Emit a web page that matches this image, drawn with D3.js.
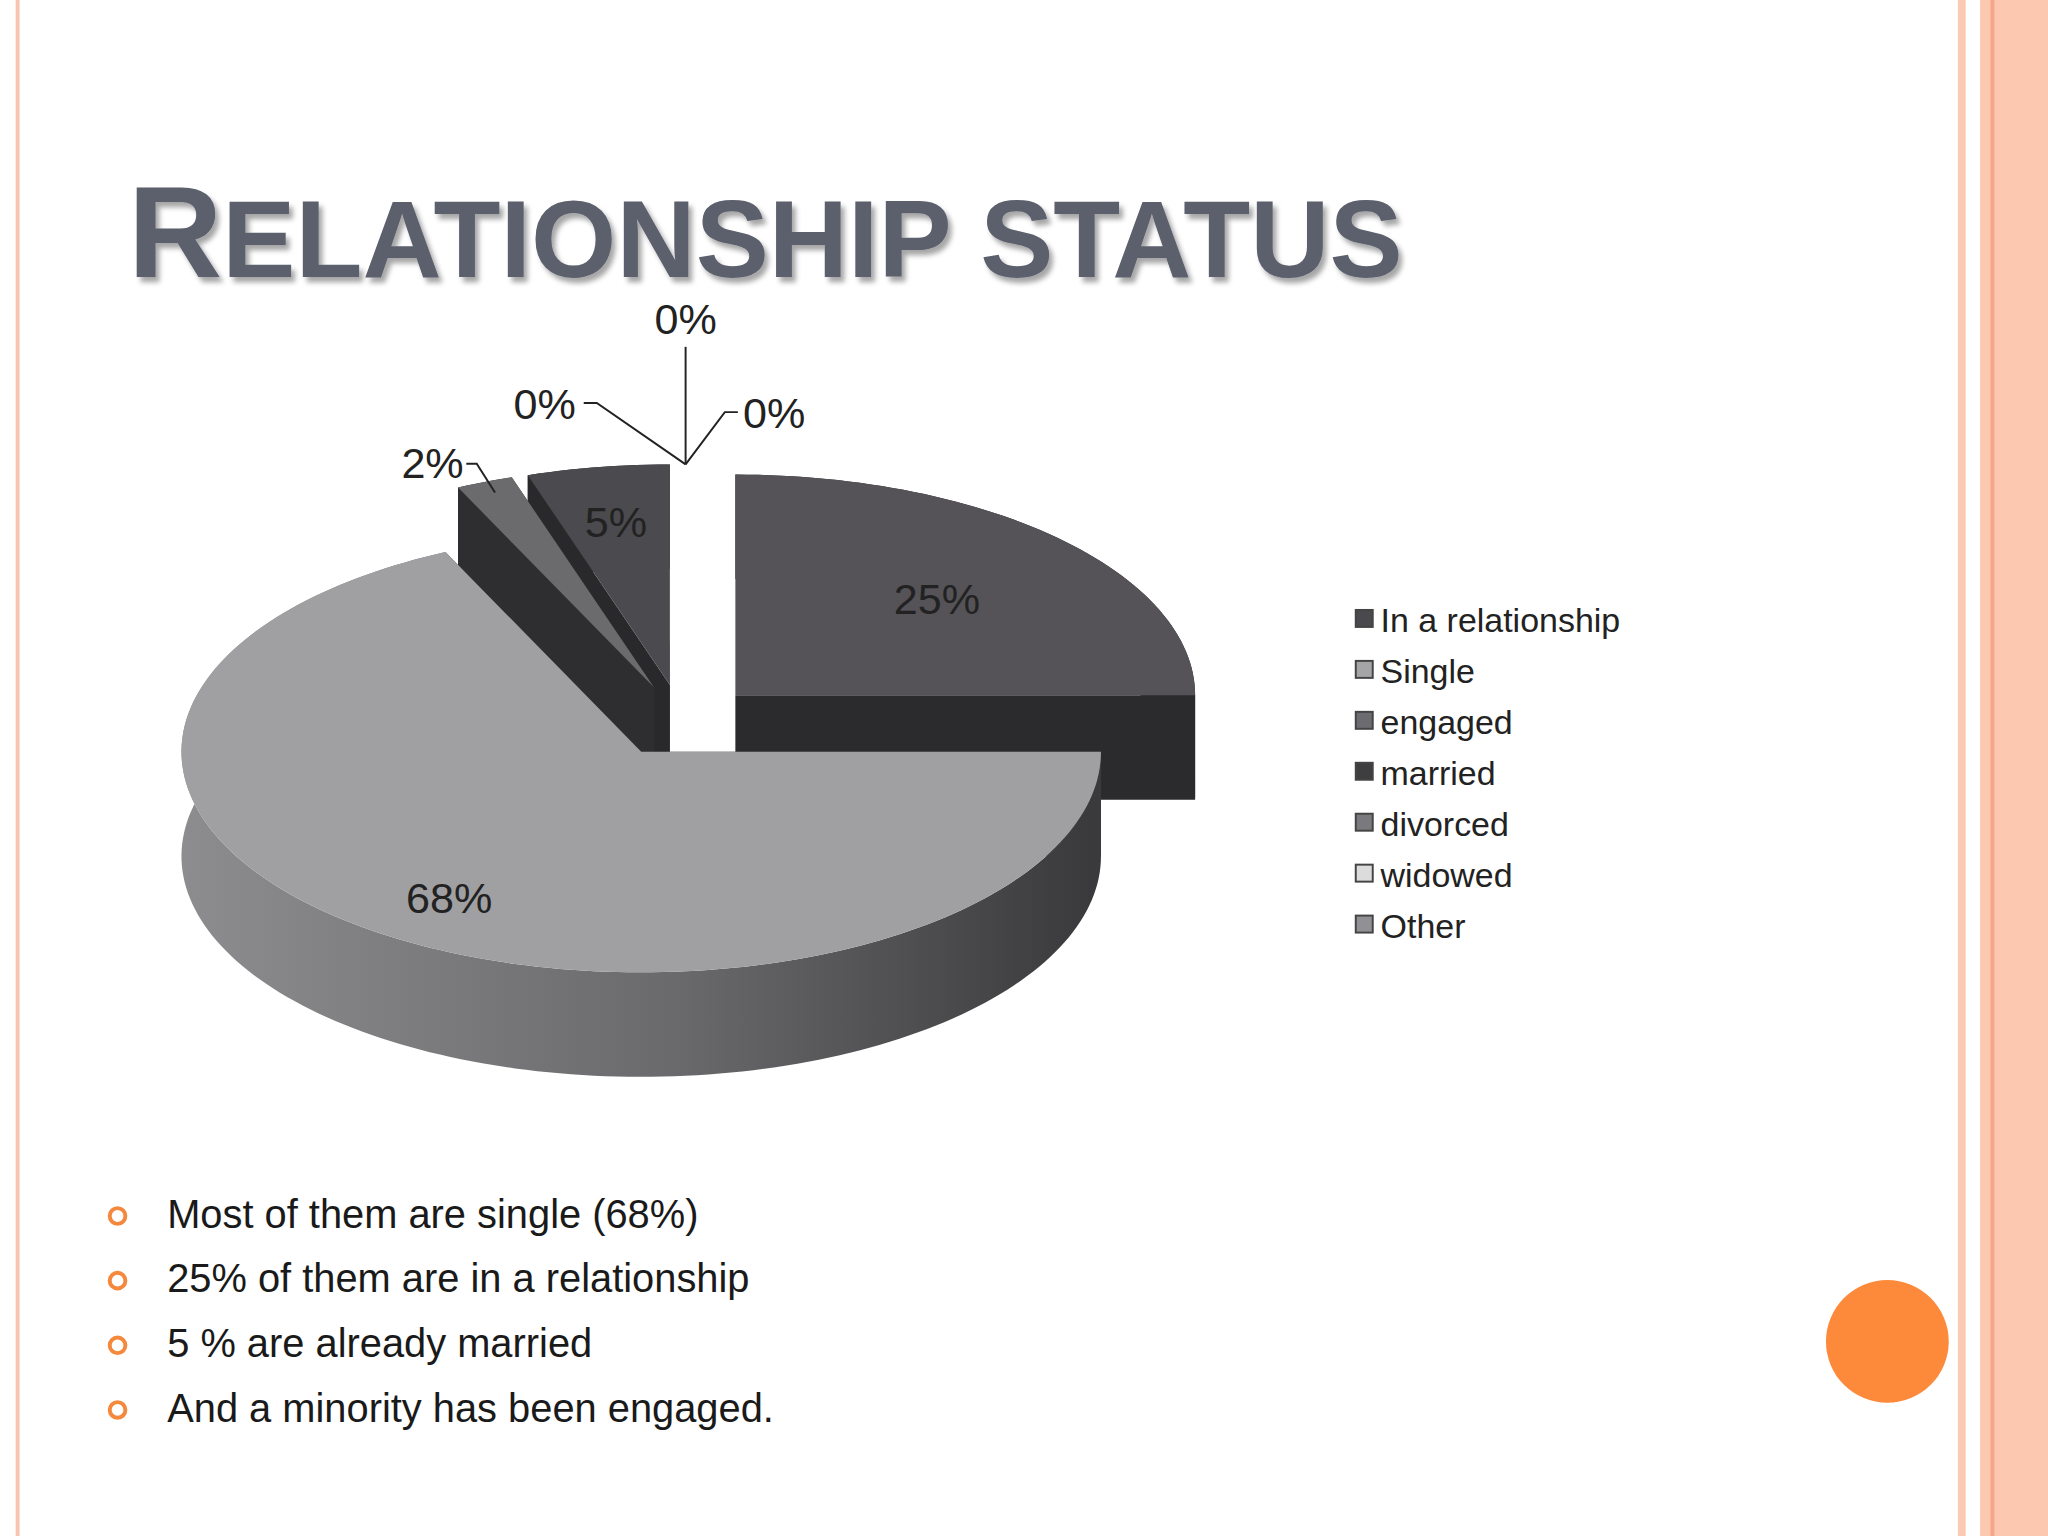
<!DOCTYPE html>
<html><head><meta charset="utf-8">
<script src="https://cdn.jsdelivr.net/npm/d3@7"></script>
<style>body{margin:0;background:#fff}svg{display:block}</style>
</head><body>
<svg id="chart" width="2048" height="1536" viewBox="0 0 1568 1176"></svg>
<script>
const categories = ['In a relationship', 'Single', 'engaged', 'married', 'divorced', 'widowed', 'Other']
const values = [25, 68, 2, 5, 0.001, 0.001, 0.001]
const labels = ['25%', '68%', '2%', '5%', '0%', '0%', '0%']
const bullets = ['Most of them are single (68%)', '25% of them are in a relationship',
  '5 % are already married', 'And a minority has been engaged.']

const topColors = ['#555358', '#a09fa2', '#6b6b6d', '#4b4a4e', '#77767a', '#d8d8d8', '#8d8c90']
const sideColors = ['#2b2a2d', 'url(#singleSide)', '#2e2d30', '#29282b', '#333', '#999', '#555']
const legendFill = ['#4a494d', '#a5a4a7', '#6c6b6f', '#3e3d40', '#7a797d', '#dcdcdc', '#919094']

const svg = d3.select('#chart')

// slide frame
svg.append('rect').attr('x', 12).attr('y', 0).attr('width', 3).attr('height', 1176).attr('fill', '#f8c6b0')
svg.append('rect').attr('x', 1499).attr('y', 0).attr('width', 6).attr('height', 1176).attr('fill', '#fbcab4')
svg.append('rect').attr('x', 1516).attr('y', 0).attr('width', 52).attr('height', 1176).attr('fill', '#fcc8b0')
svg.append('rect').attr('x', 1524).attr('y', 0).attr('width', 3).attr('height', 1176).attr('fill', '#f5a889')
svg.append('circle').attr('cx', 1445).attr('cy', 1027).attr('r', 47).attr('fill', '#fd8a3a')

const defs = svg.append('defs')
const g1 = defs.append('linearGradient').attr('id', 'singleSide').attr('gradientUnits', 'userSpaceOnUse')
    .attr('x1', 125).attr('x2', 835).attr('y1', 0).attr('y2', 0)
g1.append('stop').attr('offset', '0').attr('stop-color', '#8e8e90')
g1.append('stop').attr('offset', '0.55').attr('stop-color', '#6a696c')
g1.append('stop').attr('offset', '1').attr('stop-color', '#3a393c')
const sh = defs.append('filter').attr('id', 'shadow')
sh.append('feDropShadow').attr('dx', 3).attr('dy', 4).attr('stdDeviation', 2).attr('flood-color', '#000').attr('flood-opacity', 0.35)

// title
const title = svg.append('text').attr('x', 98).attr('y', 212)
    .attr('font-family', 'Liberation Sans, Arial, sans-serif').attr('font-weight', 'bold')
    .attr('fill', '#5b5f6c').attr('filter', 'url(#shadow)')
title.append('tspan').attr('font-size', 100).text('R')
title.append('tspan').attr('font-size', 84).text('ELATIONSHIP STATUS')

// 3D pie
const cx = 522, cy = 552, r = 352, k = 0.48, depth = 80, explode = 58
const pie = d3.pie().sort(null).value(d => d)(values)
const proj = (a, rad, off) => [cx + off[0] + rad * Math.sin(a), cy + off[1] - rad * k * Math.cos(a)]

const slices = pie.map((p, i) => {
  const mid = (p.startAngle + p.endAngle) / 2
  const off = [explode * Math.sin(mid), -explode * k * Math.cos(mid)]
  return { p, i, mid, off }
})

const pieG = svg.append('g')
const arcPts = (s, rad, dy) => {
  const pts = []
  const n = Math.max(2, Math.ceil((s.p.endAngle - s.p.startAngle) * 40))
  for (let j = 0; j <= n; j++) {
    const a = s.p.startAngle + (s.p.endAngle - s.p.startAngle) * j / n
    const q = proj(a, rad, s.off)
    pts.push([q[0], q[1] + dy])
  }
  return pts
}
const line = d3.line()

slices.filter(s => s.p.value > 0.01).slice().sort((a, b) => a.off[1] - b.off[1]).forEach(s => {
  const apex = proj(0, 0, s.off)
  const top = arcPts(s, r, 0)
  const bot = arcPts(s, r, depth)
  const g = pieG.append('g')
  ;[top[0], top[top.length - 1]].forEach((e, j) => {
    const b = j ? bot[bot.length - 1] : bot[0]
    g.append('path').attr('d', line([apex, e, b, [apex[0], apex[1] + depth]]) + 'Z')
        .attr('fill', s.i === 1 ? '#3f3e41' : sideColors[s.i])
  })
  g.append('path').attr('d', line(top.concat(bot.slice().reverse())) + 'Z').attr('fill', sideColors[s.i])
  g.append('path').attr('d', line([apex].concat(top)) + 'Z').attr('fill', topColors[s.i])
})

// labels
const labelFactor = [0.62, 0.78, 1.0, 0.75, 1, 1, 1]
const lblG = svg.append('g').attr('font-family', 'Liberation Sans, Arial, sans-serif')
    .attr('font-size', 33).attr('fill', '#222')
slices.forEach(s => {
  if (s.i === 0 || s.i === 1 || s.i === 3) {
    const q = proj(s.mid, r * labelFactor[s.i], s.off)
    lblG.append('text').attr('x', q[0]).attr('y', q[1] + 12).attr('text-anchor', 'middle').text(labels[s.i])
  }
})
// leader line for engaged
const eng = slices[2]
const ep = proj(eng.mid, r, eng.off)
const engL = [[ep[0] + 8, ep[1] + 8], [ep[0] - 6, ep[1] - 14], [ep[0] - 14, ep[1] - 14]]
lblG.append('path').attr('d', line(engL)).attr('fill', 'none').attr('stroke', '#222').attr('stroke-width', 1.5)
lblG.append('text').attr('x', engL[2][0] - 2).attr('y', engL[2][1] + 11).attr('text-anchor', 'end').text(labels[2])

// leader lines for zero slices, from the top of the pie
const mp = proj(2 * Math.PI, r, slices[3].off)
const z = [mp[0] + 12, mp[1]]
const zero = [[z[0] - 68, z[1] - 47, -6, 'end', 12], [z[0], z[1] - 90, 0, 'middle', -10], [z[0] + 30, z[1] - 40, 4, 'start', 12]]
zero.forEach((d, j) => {
  const ends = j === 0 ? [[z[0], z[1]], [d[0], d[1]], [d[0] - 10, d[1]]]
      : j === 2 ? [[z[0], z[1]], [d[0], d[1]], [d[0] + 10, d[1]]]
      : [[z[0], z[1]], [d[0], d[1]]]
  lblG.append('path').attr('d', line(ends)).attr('fill', 'none').attr('stroke', '#222').attr('stroke-width', 1.5)
  lblG.append('text').attr('x', ends[ends.length - 1][0] + d[2]).attr('y', d[1] + d[4])
      .attr('text-anchor', d[3]).text(labels[4 + j])
})

// legend
const leg = svg.append('g').attr('transform', 'translate(1038,475)')
    .attr('font-family', 'Liberation Sans, Arial, sans-serif').attr('font-size', 26).attr('fill', '#222')
categories.forEach((c, i) => {
  const y = i * 39
  leg.append('rect').attr('x', 0).attr('y', y - 8).attr('width', 13).attr('height', 13)
      .attr('fill', legendFill[i]).attr('stroke', '#444').attr('stroke-width', 1.5)
  leg.append('text').attr('x', 19).attr('y', y + 9).text(c)
})

// bullets
const bl = svg.append('g').attr('font-family', 'Liberation Sans, Arial, sans-serif').attr('font-size', 30.5).attr('fill', '#1a1a1a')
bullets.forEach((b, i) => {
  const y = 929 + i * 49.5
  bl.append('circle').attr('cx', 90).attr('cy', y + 2).attr('r', 6).attr('fill', 'none')
      .attr('stroke', '#f4883c').attr('stroke-width', 3)
  bl.append('text').attr('x', 128).attr('y', y + 11).text(b)
})
</script>
</body></html>
